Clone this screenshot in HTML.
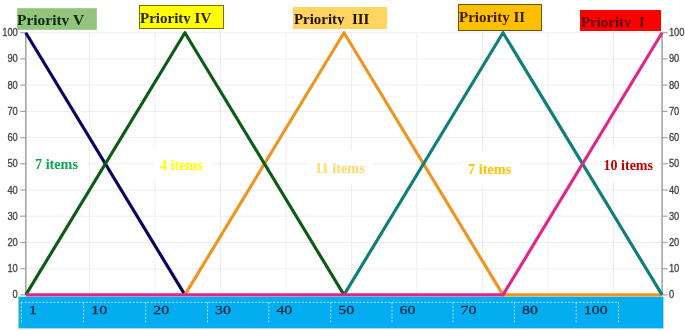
<!DOCTYPE html>
<html><head><meta charset="utf-8"><title>Priority chart</title>
<style>
html,body{margin:0;padding:0;background:#fff;}
#c{position:relative;width:685px;height:331px;overflow:hidden;background:#fff;filter:blur(0.45px);}
.lb{display:block;font-family:"Liberation Serif",serif;font-weight:bold;font-size:15px;line-height:15px;white-space:nowrap;padding-top:0px;}
.lb{line-height:normal;transform-origin:0 0;width:max-content}
.it{position:absolute;font-family:"Liberation Serif",serif;font-weight:bold;font-size:14px;line-height:normal;white-space:nowrap;}
</style></head><body><div id="c">
<svg width="685" height="331" viewBox="0 0 685 331" style="position:absolute;left:0;top:0"><g stroke="#eeeeee" stroke-width="1"><line x1="25.8" y1="294.9" x2="662.1" y2="294.9"/><line x1="25.8" y1="268.7" x2="662.1" y2="268.7"/><line x1="25.8" y1="242.5" x2="662.1" y2="242.5"/><line x1="25.8" y1="216.2" x2="662.1" y2="216.2"/><line x1="25.8" y1="190.0" x2="662.1" y2="190.0"/><line x1="25.8" y1="163.8" x2="662.1" y2="163.8"/><line x1="25.8" y1="137.6" x2="662.1" y2="137.6"/><line x1="25.8" y1="111.4" x2="662.1" y2="111.4"/><line x1="25.8" y1="85.1" x2="662.1" y2="85.1"/><line x1="25.8" y1="58.9" x2="662.1" y2="58.9"/><line x1="25.8" y1="32.7" x2="662.1" y2="32.7"/><line x1="89.5" y1="32.7" x2="89.5" y2="294.9"/><line x1="155.0" y1="32.7" x2="155.0" y2="294.9"/><line x1="220.5" y1="32.7" x2="220.5" y2="294.9"/><line x1="286.0" y1="32.7" x2="286.0" y2="294.9"/><line x1="351.5" y1="32.7" x2="351.5" y2="294.9"/><line x1="417.0" y1="32.7" x2="417.0" y2="294.9"/><line x1="482.5" y1="32.7" x2="482.5" y2="294.9"/><line x1="548.0" y1="32.7" x2="548.0" y2="294.9"/><line x1="613.5" y1="32.7" x2="613.5" y2="294.9"/></g><g stroke="#a4a4a4" stroke-width="1.2"><line x1="25.8" y1="32.2" x2="25.8" y2="294.9" stroke-width="1.6"/><line x1="662.1" y1="32.2" x2="662.1" y2="294.9" stroke-width="1.6"/><line x1="20.3" y1="294.9" x2="25.8" y2="294.9"/><line x1="662.1" y1="294.9" x2="667.6" y2="294.9"/><line x1="20.3" y1="268.7" x2="25.8" y2="268.7"/><line x1="662.1" y1="268.7" x2="667.6" y2="268.7"/><line x1="20.3" y1="242.5" x2="25.8" y2="242.5"/><line x1="662.1" y1="242.5" x2="667.6" y2="242.5"/><line x1="20.3" y1="216.2" x2="25.8" y2="216.2"/><line x1="662.1" y1="216.2" x2="667.6" y2="216.2"/><line x1="20.3" y1="190.0" x2="25.8" y2="190.0"/><line x1="662.1" y1="190.0" x2="667.6" y2="190.0"/><line x1="20.3" y1="163.8" x2="25.8" y2="163.8"/><line x1="662.1" y1="163.8" x2="667.6" y2="163.8"/><line x1="20.3" y1="137.6" x2="25.8" y2="137.6"/><line x1="662.1" y1="137.6" x2="667.6" y2="137.6"/><line x1="20.3" y1="111.4" x2="25.8" y2="111.4"/><line x1="662.1" y1="111.4" x2="667.6" y2="111.4"/><line x1="20.3" y1="85.1" x2="25.8" y2="85.1"/><line x1="662.1" y1="85.1" x2="667.6" y2="85.1"/><line x1="20.3" y1="58.9" x2="25.8" y2="58.9"/><line x1="662.1" y1="58.9" x2="667.6" y2="58.9"/><line x1="20.3" y1="32.7" x2="25.8" y2="32.7"/><line x1="662.1" y1="32.7" x2="667.6" y2="32.7"/></g><g font-family="'Liberation Sans', 'DejaVu Sans', sans-serif" font-size="10.9" fill="#444" stroke="#444" stroke-width="0.3"><text transform="translate(17.8,298.4) scale(0.86,1)" text-anchor="end">0</text><text transform="translate(668.9,298.4) scale(0.86,1)" text-anchor="start">0</text><text transform="translate(17.8,272.2) scale(0.86,1)" text-anchor="end">10</text><text transform="translate(668.9,272.2) scale(0.86,1)" text-anchor="start">10</text><text transform="translate(17.8,246.0) scale(0.86,1)" text-anchor="end">20</text><text transform="translate(668.9,246.0) scale(0.86,1)" text-anchor="start">20</text><text transform="translate(17.8,219.7) scale(0.86,1)" text-anchor="end">30</text><text transform="translate(668.9,219.7) scale(0.86,1)" text-anchor="start">30</text><text transform="translate(17.8,193.5) scale(0.86,1)" text-anchor="end">40</text><text transform="translate(668.9,193.5) scale(0.86,1)" text-anchor="start">40</text><text transform="translate(17.8,167.3) scale(0.86,1)" text-anchor="end">50</text><text transform="translate(668.9,167.3) scale(0.86,1)" text-anchor="start">50</text><text transform="translate(17.8,141.1) scale(0.86,1)" text-anchor="end">60</text><text transform="translate(668.9,141.1) scale(0.86,1)" text-anchor="start">60</text><text transform="translate(17.8,114.9) scale(0.86,1)" text-anchor="end">70</text><text transform="translate(668.9,114.9) scale(0.86,1)" text-anchor="start">70</text><text transform="translate(17.8,88.6) scale(0.86,1)" text-anchor="end">80</text><text transform="translate(668.9,88.6) scale(0.86,1)" text-anchor="start">80</text><text transform="translate(17.8,62.4) scale(0.86,1)" text-anchor="end">90</text><text transform="translate(668.9,62.4) scale(0.86,1)" text-anchor="start">90</text><text transform="translate(17.8,36.2) scale(0.86,1)" text-anchor="end">100</text><text transform="translate(668.9,36.2) scale(0.86,1)" text-anchor="start">100</text></g><polyline points="25.8,32.7 184.9,294.9" fill="none" stroke="#05055f" stroke-width="3.15" stroke-linejoin="round"/><polyline points="184.9,294.9 344.0,32.7 503.0,294.9 662.1,294.9" fill="none" stroke="#f0941f" stroke-width="3.15" stroke-linejoin="round"/><polyline points="25.8,294.9 184.9,32.7 344.0,294.9" fill="none" stroke="#0b5c15" stroke-width="3.15" stroke-linejoin="round"/><polyline points="344.0,294.9 503.0,32.7 662.1,294.9" fill="none" stroke="#0e7f7b" stroke-width="3.15" stroke-linejoin="round"/><polyline points="25.8,294.9 503.0,294.9 662.1,32.7" fill="none" stroke="#e0268a" stroke-width="3.15" stroke-linejoin="round"/><rect x="18.6" y="296.8" width="644.8" height="31.6" fill="#04acf0"/><line x1="19" y1="296.5" x2="19" y2="328.4" stroke="#5fbf5f" stroke-width="0.8"/><g stroke="#c4eafb" stroke-width="0.85" stroke-dasharray="2.1,1.5"><line x1="21" y1="302.3" x2="618.6" y2="302.3"/><line x1="21.4" y1="302.3" x2="21.4" y2="323.3"/><line x1="83.6" y1="302.3" x2="83.6" y2="323.3"/><line x1="145.7" y1="302.3" x2="145.7" y2="323.3"/><line x1="207.5" y1="302.3" x2="207.5" y2="323.3"/><line x1="268.8" y1="302.3" x2="268.8" y2="323.3"/><line x1="330.7" y1="302.3" x2="330.7" y2="323.3"/><line x1="392" y1="302.3" x2="392" y2="323.3"/><line x1="453" y1="302.3" x2="453" y2="323.3"/><line x1="514.4" y1="302.3" x2="514.4" y2="323.3"/><line x1="576.2" y1="302.3" x2="576.2" y2="323.3"/><line x1="618.5" y1="302.3" x2="618.5" y2="323.3"/></g><g font-family="'Liberation Serif', serif" font-size="13.5" fill="#0c2c48" stroke="#0c2c48" stroke-width="0.3"><text transform="translate(29.0,314.1) scale(1.175,1)">1</text><text transform="translate(91.2,314.1) scale(1.175,1)">10</text><text transform="translate(153.3,314.1) scale(1.175,1)">20</text><text transform="translate(215.1,314.1) scale(1.175,1)">30</text><text transform="translate(276.4,314.1) scale(1.175,1)">40</text><text transform="translate(338.3,314.1) scale(1.175,1)">50</text><text transform="translate(399.6,314.1) scale(1.175,1)">60</text><text transform="translate(460.6,314.1) scale(1.175,1)">70</text><text transform="translate(522.0,314.1) scale(1.175,1)">80</text><text transform="translate(583.8,314.1) scale(1.175,1)">100</text></g></svg>
<div style="position:absolute;left:16.8px;top:7.6px;width:80.2px;height:22.8px;background:#93c47d;box-shadow:inset 0 0 0 1px #a6d08f;"></div><div style="position:absolute;left:16.9px;top:12.33px;height:13.97px;width:120px;overflow:hidden;"><span class="lb" style="color:#0a2a0a;font-size:15px;transform:scaleX(1.03)">Priority V</span></div><div style="position:absolute;left:138.5px;top:5.2px;width:85.4px;height:23.6px;background:#ffff00;box-shadow:inset 0 0 0 1px #7a6e00;"></div><div style="position:absolute;left:139.8px;top:10.48px;height:13.62px;width:120px;overflow:hidden;"><span class="lb" style="color:#2a2400;font-size:14.5px;transform:scaleX(1.035)">Priority IV</span></div><div style="position:absolute;left:293px;top:7.2px;width:93.5px;height:22.1px;background:#ffd45f;"></div><div style="position:absolute;left:294.4px;top:11.40px;height:13.80px;width:120px;overflow:hidden;"><span class="lb" style="color:#1a1200;font-size:14.7px;transform:scaleX(1.015)">Priority&nbsp; III</span></div><div style="position:absolute;left:457.6px;top:4.1px;width:84.8px;height:26.5px;background:#ffc000;box-shadow:inset 0 0 0 1px #6b5200;"></div><div style="position:absolute;left:459.3px;top:9.39px;height:18.11px;width:120px;overflow:hidden;"><span class="lb" style="color:#3a1c00;font-size:14.6px;transform:scaleX(1.025)">Priority II</span></div><div style="position:absolute;left:579.8px;top:9.8px;width:81.4px;height:21.2px;background:#ff0000;"></div><div style="position:absolute;left:580.7px;top:13.95px;height:13.35px;width:120px;overflow:hidden;"><span class="lb" style="color:#5a0012;font-size:14.2px;transform:scaleX(1.05)">Priority&nbsp; I</span></div><div style="position:absolute;left:28px;top:146px;width:60px;height:35px;background:#fff"></div><div class="it" style="left:35.0px;top:156.15px;color:#0aa652;font-size:14.2px">7 items</div><div style="position:absolute;left:154px;top:147px;width:58px;height:33px;background:#fff"></div><div class="it" style="left:159.9px;top:156.75px;color:#ffff00;font-size:14.2px">4 items</div><div style="position:absolute;left:308px;top:150px;width:64px;height:34px;background:#fff"></div><div class="it" style="left:315.1px;top:159.96px;color:#ffd966;font-size:14.3px">11 items</div><div style="position:absolute;left:462px;top:151px;width:58px;height:34px;background:#fff"></div><div class="it" style="left:468.0px;top:160.66px;color:#ffc000;font-size:14.3px">7 items</div><div style="position:absolute;left:598px;top:148px;width:62px;height:34px;background:#fff"></div><div class="it" style="left:603.6px;top:158.43px;color:#c00000;font-size:14.0px">10 items</div>
</div></body></html>
